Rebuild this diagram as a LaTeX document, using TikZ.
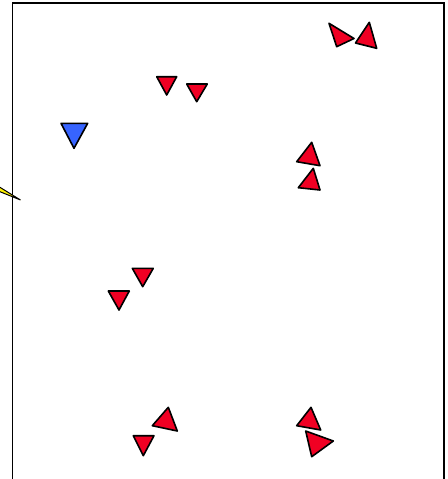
\documentclass[tikz,border=0pt]{standalone}
\begin{document}
\begin{tikzpicture}[x=1pt,y=-1pt,
  redtri/.style={draw=black,line width=1.6pt,fill={rgb,255:red,240;green,0;blue,35},line join=round},
  bluetri/.style={draw=black,line width=1.6pt,fill={rgb,255:red,55;green,100;blue,255},line join=round},
  frame/.style={draw=black,line width=1.8pt}]
\useasboundingbox (0,0) rectangle (447,479);
\fill[white] (0,0) rectangle (447,479);
% frame (open at bottom)
\coordinate (fbl) at (12.5,482);
\coordinate (ftl) at (12.5,3);
\coordinate (ftr) at (444,3);
\coordinate (fbr) at (444,482);
\draw[frame] (fbl) -- (ftl) -- (ftr) -- (fbr);
% yellow pointer at left
\draw[fill=yellow,draw=black,line width=1pt] (-3,185.5) -- (20.5,200) -- (-3,190.5) -- cycle;
% triangles
\draw[redtri] (329,23.3) -- (354,38.5) -- (336.7,46.7) -- cycle;
\draw[redtri] (369.3,22.3) -- (376.7,48.3) -- (355.5,43) -- cycle;
\draw[redtri] (156.7,76.7) -- (176.7,76.7) -- (166.7,95) -- cycle;
\draw[redtri] (186.7,84) -- (207.3,84) -- (196.7,101.7) -- cycle;
\draw[bluetri] (61,123.3) -- (87.7,123.3) -- (74,148.3) -- cycle;
\draw[redtri] (311.7,142.3) -- (320,165.7) -- (296.7,161.7) -- cycle;
\draw[redtri] (313.3,168.3) -- (320,190) -- (298.3,187.7) -- cycle;
\draw[redtri] (132.3,268.3) -- (153.3,268.3) -- (142.7,286.7) -- cycle;
\draw[redtri] (108.3,291) -- (129.3,291) -- (119,310) -- cycle;
\draw[redtri] (168.3,407.3) -- (177.3,431) -- (152.3,425.7) -- cycle;
\draw[redtri] (133.3,435.7) -- (154,435.7) -- (143.3,455.7) -- cycle;
\draw[redtri] (311,407.3) -- (320.7,430) -- (296.7,425.7) -- cycle;
\draw[redtri] (305.7,431) -- (333.3,441) -- (311.7,456.7) -- cycle;
\end{tikzpicture}
\end{document}
